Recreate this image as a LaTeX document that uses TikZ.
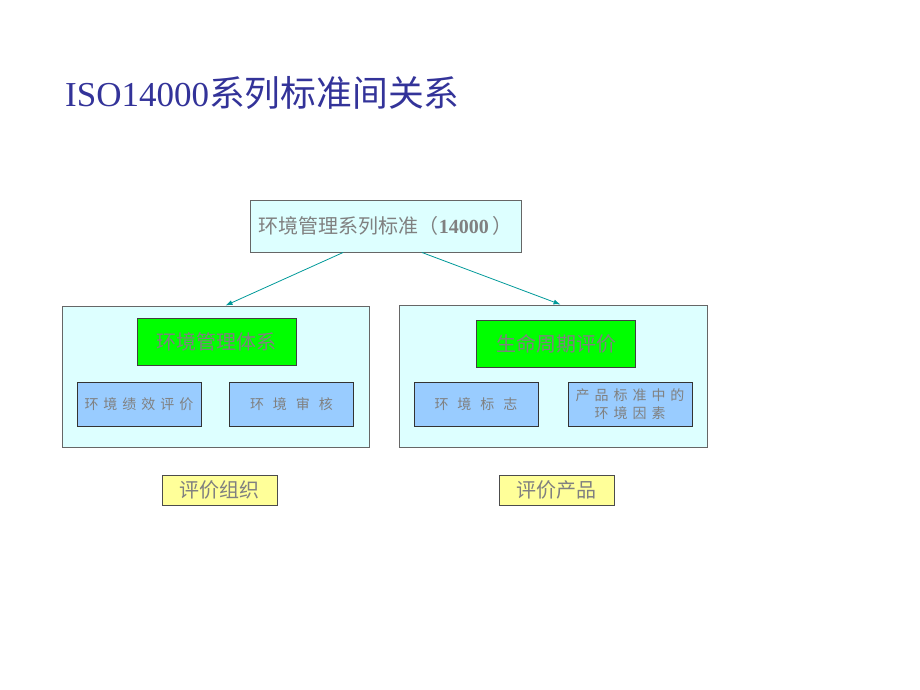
\documentclass[tikz,border=0pt]{standalone}
\usepackage{fontspec}
\setmainfont{Liberation Serif}
\newfontfamily\cjk{Noto Sans CJK SC}
\usepackage{tikz}
\usetikzlibrary{arrows.meta}
\usepackage{color}

\definecolor{titleblue}{RGB}{51,51,153}
\definecolor{txtgray}{RGB}{128,128,128}
\definecolor{palecyan}{RGB}{221,255,255}
\definecolor{brightgreen}{RGB}{0,255,0}
\definecolor{skyblue}{RGB}{153,204,255}
\definecolor{paleyellow}{RGB}{255,255,153}
\definecolor{arrowteal}{RGB}{0,153,153}

\newcommand{\narrowgap}{\spaceskip=5pt\relax}
\newcommand{\widegap}{\spaceskip=9pt\relax}

\begin{document}
\begin{tikzpicture}[x=1pt,y=-1pt,
  frame/.style={draw=black!60, fill=palecyan, line width=1pt, inner sep=0pt},
  core/.style={draw=black!75, fill=brightgreen, line width=1pt, inner sep=0pt,
    minimum width=159pt, minimum height=47pt, text=txtgray,
    font=\cjk\fontsize{20}{24}\selectfont},
  cell/.style={draw=black!80, fill=skyblue, line width=1pt, inner sep=0pt,
    minimum width=124pt, minimum height=44pt, text=txtgray, align=center,
    font=\cjk\fontsize{14}{17}\selectfont},
  tag/.style={draw=black!70, fill=paleyellow, line width=1pt, inner sep=0pt,
    minimum width=115pt, minimum height=30pt, text=txtgray,
    font=\cjk\fontsize{20}{24}\selectfont},
  link/.style={arrowteal, line width=0.8pt, -{Latex[length=7pt,width=5pt]}}]
\useasboundingbox (0,0) rectangle (920,690);

\node[anchor=west, text=titleblue, inner sep=0pt] (title) at (65,93)
  {\fontsize{35}{40}\selectfont ISO14000{\cjk\fontsize{35.8}{40}\selectfont 系列标准间关系}};

\node[frame, minimum width=271pt, minimum height=52pt, text=txtgray] (iso) at (385.5,226)
  {\fontsize{20}{24}\selectfont{\cjk 环境管理系列标准（}\textbf{14000}\,{\cjk ）}};

\node[frame, minimum width=307pt, minimum height=141pt] (org) at (215.5,376.5) {};
\node[frame, minimum width=308pt, minimum height=142pt] (prod) at (553,376) {};

\node[core] (ems) at (216.5,341.5) {环境管理体系};
\node[core] (lca) at (556,343.5) {生命周期评价};

\node[cell] (epe) at (139,404) {\narrowgap 环 境 绩 效 评 价};
\node[cell] (audit) at (291.5,404) {\widegap 环 境 审 核};
\node[cell] (label) at (476,404) {\widegap 环 境 标 志};
\node[cell] (aspect) at (630,404) {\narrowgap 产 品 标 准 中 的\\[1pt]\narrowgap 环 境 因 素};

\node[tag] (evalorg) at (219.5,490) {评价组织};
\node[tag] (evalprod) at (556.5,490) {评价产品};

\draw[link] (iso.212.7) -- (org.82.3);
\draw[link] (iso.324.5) -- (prod.84.4);

\end{tikzpicture}
\end{document}
